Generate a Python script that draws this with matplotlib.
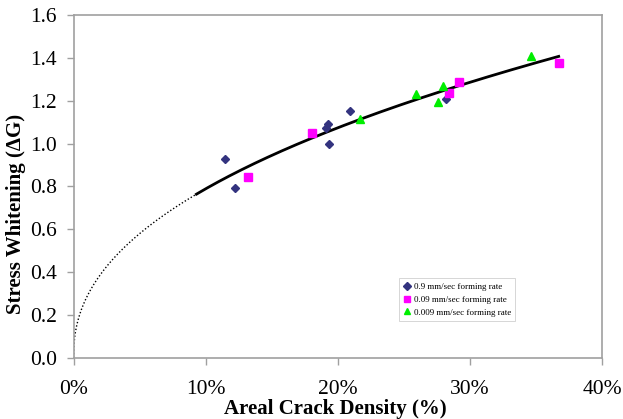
import numpy as np
import matplotlib
matplotlib.use("Agg")
import matplotlib.pyplot as plt
from matplotlib.ticker import PercentFormatter

plt.rcParams['font.family'] = ['Liberation Serif', 'DejaVu Serif']

# areal crack density (%) and stress whitening for each forming rate
x_fast = [11.46, 12.22, 19.08, 19.23, 19.30, 20.89, 28.15]
y_fast = [0.926, 0.790, 1.074, 1.091, 0.999, 1.152, 1.208]

x_mid = [13.18, 18.02, 28.43, 29.16, 36.72]
y_mid = [0.842, 1.050, 1.236, 1.287, 1.377]

x_slow = [21.65, 25.89, 27.55, 27.97, 34.61]
y_slow = [1.113, 1.230, 1.192, 1.268, 1.410]

labels = ['0.9 mm/sec forming rate', '0.09 mm/sec forming rate', '0.009 mm/sec forming rate']

# power-law trendline fitted to all points (like the excel trendline)
xs = np.array(x_fast + x_mid + x_slow)
ys = np.array(y_fast + y_mid + y_slow)
b, loga = np.polyfit(np.log(xs), np.log(ys), 1)
a = np.exp(loga)

fig = plt.figure(figsize=(6.23, 4.19), dpi=100)
ax = fig.add_axes([73.5 / 623, 1 - 357.7 / 419, 528.8 / 623, 342.7 / 419])

x_dot = np.linspace(0, 9.3, 300)
x_sol = np.linspace(9.3, 36.7, 200)
ax.plot(x_dot, a * x_dot ** b, color='black', lw=1.0, ls=(0, (1, 1.5)))
ax.plot(x_sol, a * x_sol ** b, color='black', lw=2.0)

ax.plot(x_fast, y_fast, ls='none', marker='D', ms=4.5, color='#33337f', label=labels[0])
ax.plot(x_mid, y_mid, ls='none', marker='s', ms=5.5, color='#ff00ff', label=labels[1])
ax.plot(x_slow, y_slow, ls='none', marker='^', ms=6, color='#00ee00', label=labels[2])

ax.set_xlim(0, 40)
ax.set_ylim(0, 1.6)
ax.set_xticks([0, 10, 20, 30, 40])
ax.set_yticks(np.arange(0, 1.61, 0.2))
ax.xaxis.set_major_formatter(PercentFormatter(100, decimals=0))
ax.yaxis.set_major_formatter(matplotlib.ticker.FormatStrFormatter('%.1f'))

for s in ax.spines.values():
    s.set_color('#a0a0a0')
    s.set_linewidth(1.2)
ax.tick_params(colors='#a0a0a0', labelcolor='black', labelsize=15.5, length=5, width=1)
ax.tick_params(axis='x', pad=11)
ax.tick_params(axis='y', pad=7)

ax.set_xlabel('Areal Crack Density (%)', fontsize=15, fontweight='bold')
ax.xaxis.set_label_coords(0.495, -0.12)
ax.set_ylabel('Stress Whitening (ΔG)', fontsize=15, fontweight='bold')
ax.yaxis.set_label_coords(-0.09, 0.42)

leg = ax.legend(loc='lower left', bbox_to_anchor=(0.616, 0.107), fontsize=6.5,
                frameon=True, fancybox=False, edgecolor='#d0d0d0', framealpha=1,
                handlelength=0.8, handletextpad=0.3, borderpad=0.5, labelspacing=0.5,
                markerscale=0.8, borderaxespad=0)
leg.get_frame().set_linewidth(0.6)

fig.savefig('out.png', dpi=100)
